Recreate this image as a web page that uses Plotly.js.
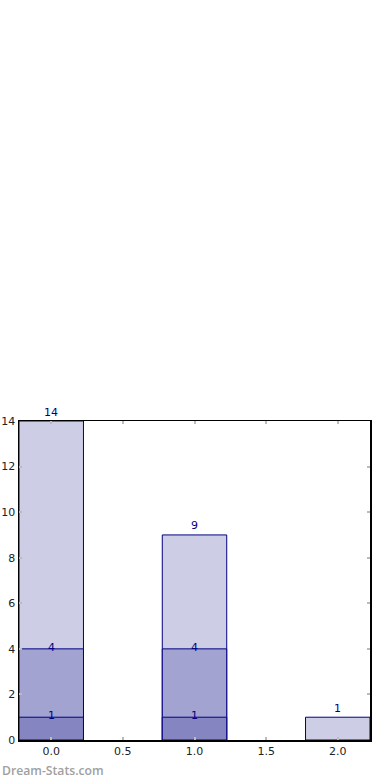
<!DOCTYPE html>
<html>
<head>
<meta charset="utf-8">
<script src="https://cdn.plot.ly/plotly-3.0.1.min.js"></script>
<style>html,body{margin:0;padding:0;background:#fff;}#chart{width:390px;height:780px;}</style>
</head>
<body>
<div id="chart"></div>
<script>
var categories = [0, 1, 2];
var totalTop = [14, 9, 1];
var totalMid = [4, 4, 0];
var totalLow = [1, 1, 0];
var xTicks = [0, 0.5, 1, 1.5, 2];
var xTickText = ['0.0', '0.5', '1.0', '1.5', '2.0'];
var yTicks = [0, 2, 4, 6, 8, 10, 12, 14];

var colors = ['#cdcde5', '#a3a3d1', '#8585c2'];
var layers = [totalTop, totalMid, totalLow];
var shifts = [9, 1, 1.5];

var traces = layers.map(function (vals, i) {
  return {
    type: 'bar',
    x: categories,
    y: vals.map(function (v) { return v > 0 ? v : null; }),
    width: 0.45,
    marker: { color: colors[i], line: { color: '#000080', width: 1 } },
    hoverinfo: 'none'
  };
});

var annotations = [];
layers.forEach(function (vals, i) {
  vals.forEach(function (v, j) {
    if (v > 0) {
      annotations.push({
        x: categories[j], y: v, xref: 'x', yref: 'y',
        text: String(v), showarrow: false,
        xanchor: 'center', yanchor: 'middle', yshift: shifts[i],
        font: { family: 'DejaVu Sans', size: 11, color: '#000080' }
      });
    }
  });
});
annotations.push({
  xref: 'paper', yref: 'paper', x: -19 / 351, y: -30 / 319,
  xanchor: 'left', yanchor: 'middle', showarrow: false,
  text: 'Dream-Stats.com',
  font: { family: 'Open Sans', size: 12.2, weight: 600, color: '#a0a0a0' }
});

var layout = {
  width: 390, height: 780,
  margin: { l: 19, r: 20, t: 421, b: 40 },
  paper_bgcolor: '#fff', plot_bgcolor: '#fff',
  barmode: 'overlay',
  showlegend: false,
  xaxis: {
    range: [-0.225, 2.225], tickvals: xTicks, ticktext: xTickText,
    ticks: 'inside', ticklen: 3, tickwidth: 2, tickcolor: '#bbbbbb',
    showline: true, linecolor: '#000', linewidth: 1.5, mirror: 'allticks',
    showgrid: false, zeroline: false,
    tickfont: { family: 'DejaVu Sans', size: 11, color: '#222' }
  },
  yaxis: {
    range: [0, 14], tickvals: yTicks,
    ticks: 'inside', ticklen: 3, tickwidth: 2, tickcolor: '#bbbbbb',
    showline: true, linecolor: '#000', linewidth: 1.5, mirror: 'allticks',
    showgrid: false, zeroline: false,
    tickfont: { family: 'DejaVu Sans', size: 11, color: '#222' }
  },
  annotations: annotations
};

Plotly.newPlot('chart', traces, layout, { staticPlot: true, displayModeBar: false });
</script>
</body>
</html>
